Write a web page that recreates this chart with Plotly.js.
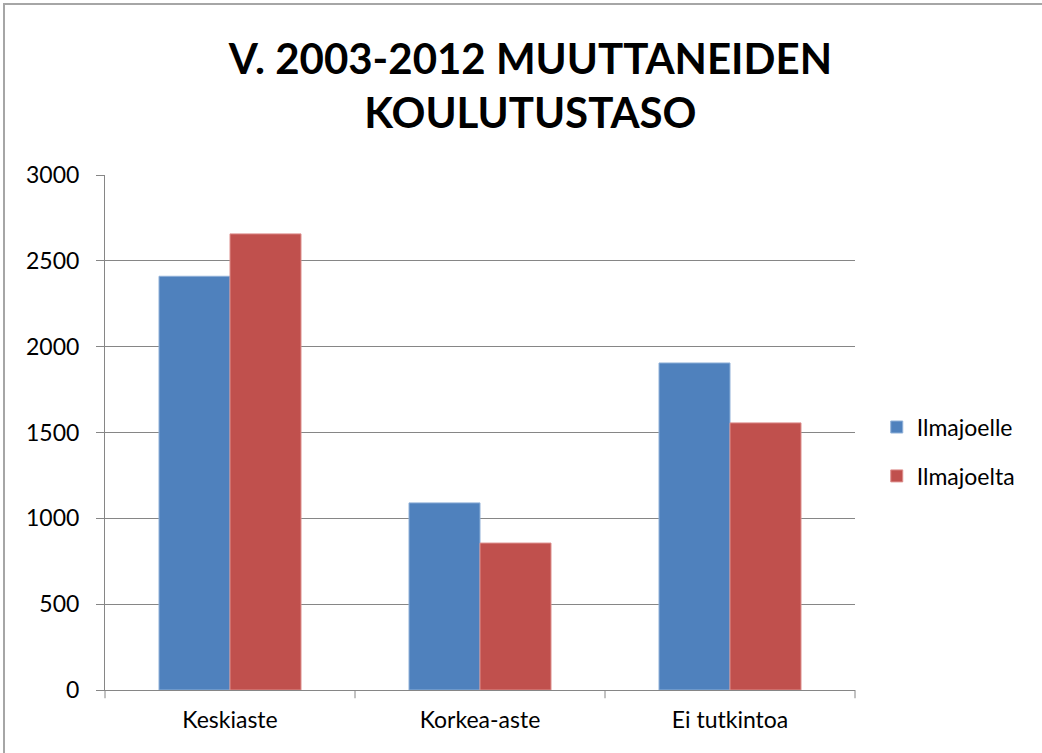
<!DOCTYPE html>
<html>
<head>
<meta charset="utf-8">
<script src="https://cdn.plot.ly/plotly-3.0.1.min.js"></script>
<style>
  html, body { margin: 0; padding: 0; background: #fff; }
  #wrap { position: relative; width: 1042px; height: 753px; overflow: hidden; }
  #chart { position: absolute; left: 0; top: 0; width: 1042px; height: 753px; }
  #frame { position: absolute; left: 3px; top: 3px; width: 1100px; height: 800px;
           border-left: 2px solid #a6a6a6; border-top: 2px solid #a6a6a6; pointer-events: none; }
</style>
</head>
<body>
<div id="wrap">
  <div id="chart"></div>
  <div id="frame"></div>
</div>
<script>
const categories = ["Keskiaste", "Korkea-aste", "Ei tutkintoa"];
const seriesNames = ["Ilmajoelle", "Ilmajoelta"];
const ilmajoelle = [2410, 1090, 1905];
const ilmajoelta = [2657, 856, 1556];
const yTicks = [0, 500, 1000, 1500, 2000, 2500, 3000];
const colors = ["#4f81bd", "#c0504d"];

const font = "Lato, 'Open Sans', sans-serif";

const traces = [
  { type: "bar", name: seriesNames[0], x: categories, y: ilmajoelle, legendgroup: "a",
    marker: { color: colors[0], line: { color: "#8fb0d8", width: 1 } }, hoverinfo: "x+y" },
  { type: "bar", name: seriesNames[1], x: categories, y: ilmajoelta, legendgroup: "b",
    marker: { color: colors[1], line: { color: "#dd8e8c", width: 1 } }, hoverinfo: "x+y" }
];

const layout = {
  width: 1042, height: 753,
  margin: { l: 105, r: 187, t: 175, b: 63 },
  paper_bgcolor: "#fff", plot_bgcolor: "#fff",
  font: { family: font, size: 23, color: "#000" },
  title: {
    text: "V. 2003-2012 MUUTTANEIDEN<br>KOULUTUSTASO",
    font: { family: font, size: 42, color: "#000", weight: "bold" },
    x: 0.509, xanchor: "center", yref: "container", y: 0.902, yanchor: "top"
  },
  barmode: "group",
  bargap: 0.432, bargroupgap: 0,
  xaxis: {
    type: "category",
    showgrid: false, showline: true, linecolor: "#868686", linewidth: 1,
    ticks: "", ticklabelstandoff: 9, tickfont: { family: font, size: 23 },
    fixedrange: true
  },
  yaxis: {
    range: [0, 3000], tickvals: yTicks, ticktext: yTicks.map(String),
    showgrid: true, gridcolor: "#868686", gridwidth: 1,
    showline: true, linecolor: "#868686", linewidth: 1,
    ticks: "outside", ticklen: 8, tickcolor: "#868686",
    ticklabelstandoff: 12,
    tickfont: { family: font, size: 23 }, zeroline: false,
    fixedrange: true
  },
  shapes: [0, 1, 2, 3].map(i => ({
    type: "line", xref: "paper", yref: "paper",
    x0: i / 3, x1: i / 3, y0: 0, y1: -0.016,
    line: { color: "#868686", width: 1 }
  })),
  legend: {
    x: 1.029, xanchor: "left", y: 0.463, yanchor: "middle",
    font: { family: font, size: 23 }, tracegroupgap: 16,
    itemwidth: 30, bgcolor: "rgba(0,0,0,0)"
  },
  showlegend: true
};

Plotly.newPlot("chart", traces, layout, { displayModeBar: false, staticPlot: true });
</script>
</body>
</html>
